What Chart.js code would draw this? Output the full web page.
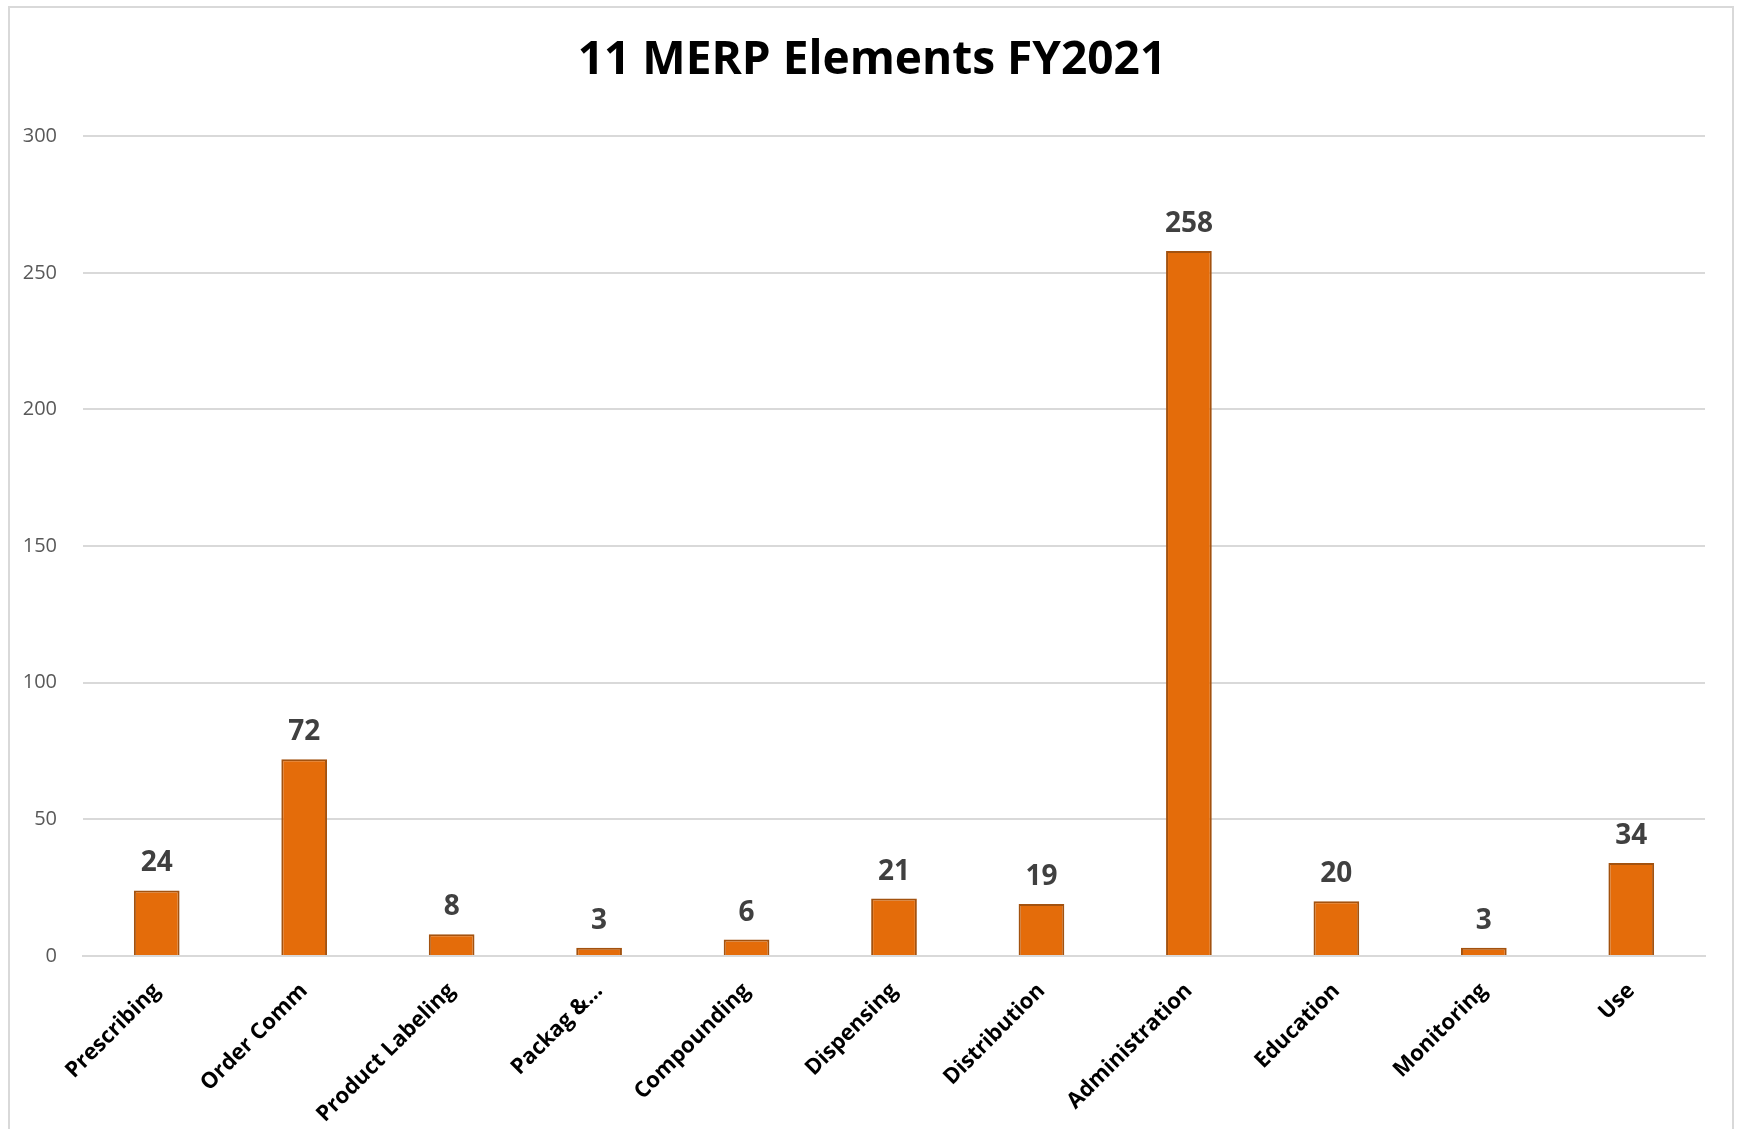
<!DOCTYPE html>
<html>
<head>
<meta charset="utf-8">
<script src="https://cdn.jsdelivr.net/npm/chart.js@4"></script>
<style>
    html, body { margin: 0; padding: 0; background: #fff; overflow: hidden; }
    #wrap { width: 1737px; height: 1129px; position: relative; }
</style>
</head>
<body>
<div id="wrap">
    <canvas id="merpChart" width="1737" height="1129"></canvas>
</div>
<script>
    var categories = ['Prescribing', 'Order Comm', 'Product Labeling', 'Packag &\u2026', 'Compounding',
                      'Dispensing', 'Distribution', 'Administration', 'Education', 'Monitoring', 'Use'];
    var counts = [24, 72, 8, 3, 6, 21, 19, 258, 20, 3, 34];
    var yTicks = [0, 50, 100, 150, 200, 250, 300];
    var chartTitle = '11 MERP Elements FY2021';

    // outer frame like the excel chart area
    var framePlugin = {
        id: 'frame',
        beforeDraw: function(chart) {
            var ctx = chart.ctx;
            ctx.save();
            ctx.fillStyle = '#fff';
            ctx.fillRect(0, 0, chart.width, chart.height);
            ctx.strokeStyle = '#d9d9d9';
            ctx.lineWidth = 2;
            ctx.strokeRect(9, 7, 1724, 1300);
            ctx.restore();
        },
        // centre the title on the frame, not on the padded box
        afterLayout: function(chart) {
            if (chart.titleBlock) {
                chart.titleBlock.left = 39;
                chart.titleBlock.right = 1705;
            }
        }
    };

    // value labels above the bars
    var valueLabels = {
        id: 'valueLabels',
        afterDatasetsDraw: function(chart) {
            var ctx = chart.ctx;
            var meta = chart.getDatasetMeta(0);
            ctx.save();
            ctx.font = 'bold 28px "Open Sans"';
            ctx.fillStyle = '#404040';
            ctx.textAlign = 'center';
            ctx.textBaseline = 'alphabetic';
            meta.data.forEach(function(bar, i) {
                ctx.fillText(counts[i], bar.x, bar.y - 19);
            });
            ctx.restore();
        }
    };

    var ctx = document.getElementById('merpChart').getContext('2d');
    var merpChart = new Chart(ctx, {
        type: 'bar',
        data: {
            labels: categories,
            datasets: [{
                data: counts,
                backgroundColor: '#e46c0a',
                borderColor: '#a3520f',
                borderWidth: 2,
                barPercentage: 0.31,
                categoryPercentage: 1.0
            }]
        },
        options: {
            responsive: false,
            animation: false,
            layout: { padding: { left: 0, right: 32, top: 0, bottom: 0 } },
            plugins: {
                legend: { display: false },
                tooltip: { enabled: false },
                title: {
                    display: true,
                    text: chartTitle,
                    color: '#000',
                    font: { family: 'Open Sans', size: 46, weight: 'bold', lineHeight: 1.2 },
                    padding: { top: 33, bottom: 48 }
                }
            },
            scales: {
                x: {
                    grid: { display: false, drawTicks: false },
                    border: { color: '#d9d9d9', width: 2 },
                    ticks: {
                        color: '#000',
                        font: { family: 'Open Sans', size: 22, weight: 'bold' },
                        maxRotation: 45,
                        minRotation: 45,
                        padding: 22,
                        autoSkip: false
                    },
                    afterFit: function(scale) { scale.height = 173; }
                },
                y: {
                    min: 0,
                    max: 300,
                    afterBuildTicks: function(scale) {
                        scale.ticks = yTicks.map(function(v) { return { value: v }; });
                    },
                    grid: { color: '#d9d9d9', lineWidth: 2, drawTicks: false },
                    border: { display: false },
                    ticks: {
                        color: '#595959',
                        font: { family: 'Open Sans', size: 20 },
                        padding: 26
                    },
                    afterFit: function(scale) { scale.width = 83; }
                }
            }
        },
        plugins: [framePlugin, valueLabels]
    });
</script>
</body>
</html>
